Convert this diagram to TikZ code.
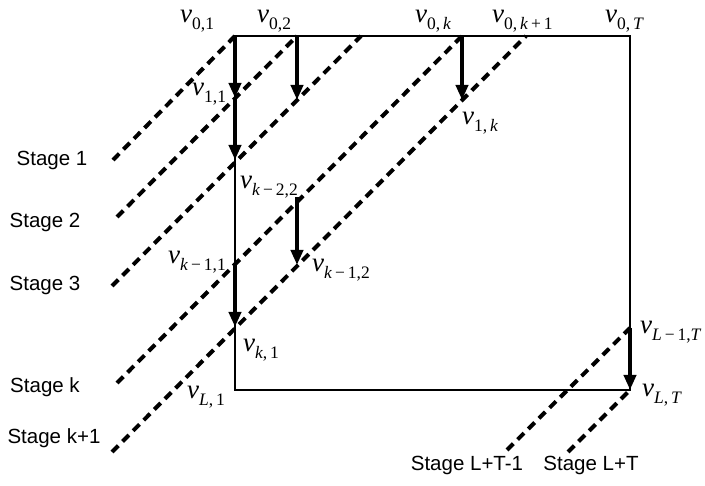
\documentclass[tikz,border=0pt]{standalone}
\usepackage{fontspec}
\setmainfont{Liberation Serif}
\newfontfamily\stagefont{Liberation Sans}
\usetikzlibrary{arrows.meta, positioning}

\newcommand{\vlab}[1]{\raisebox{0pt}[14pt][0pt]{\fontsize{27}{29}\selectfont\itshape v}\raisebox{-7pt}[6pt][0pt]{\fontsize{17.5}{18}\selectfont #1}}

\begin{document}
\begin{tikzpicture}[
    x=1pt, y=-1pt,
    grid/.style={line width=2pt},
    stage/.style={line width=4pt, dash pattern=on 9pt off 6pt},
    flow/.style={-{Triangle[length=15pt,width=12pt]}, line width=4pt},
    lab/.style={anchor=base west, inner sep=0pt},
    stagelab/.style={inner sep=0pt, font=\stagefont\fontsize{20.5}{23}\selectfont}
]
    \useasboundingbox (0,0) rectangle (705,486);

    % grid points
    \coordinate (v01) at (235,36);
    \coordinate (v02) at (297,36);
    \coordinate (v03) at (361,36);
    \coordinate (v0k) at (462,36);
    \coordinate (v0k1) at (526,36);
    \coordinate (v0T) at (630,36);
    \coordinate (v11) at (235,98);
    \coordinate (v12) at (297,100);
    \coordinate (v1k) at (462,100);
    \coordinate (v21) at (235,160);
    \coordinate (vk22) at (297,197);
    \coordinate (vk11) at (235,263);
    \coordinate (vk12) at (297,265);
    \coordinate (vk1) at (235,327);
    \coordinate (vL1) at (235,390);
    \coordinate (vL1T) at (630,328);
    \coordinate (vLT) at (630,390);

    % free ends of the stage lines
    \coordinate (s1) at (113,160);
    \coordinate (s2) at (117,217);
    \coordinate (s3) at (112,286);
    \coordinate (sk) at (117,383);
    \coordinate (sk1) at (112,452);
    \coordinate (sLT1) at (507,450);
    \coordinate (sLT) at (568,452);

    \draw[grid] (v01) -- (v0T) -- (vLT) -- (vL1) -- cycle;

    % stages
    \draw[stage] (s1) -- (v01);
    \draw[stage] (s2) -- (v02);
    \draw[stage] (s3) -- (v03);
    \draw[stage] (sk) -- (v0k);
    \draw[stage] (sk1) -- (v0k1);
    \draw[stage] (sLT1) -- (vL1T);
    \draw[stage] (sLT) -- (vLT);

    % moves
    \draw[flow] (v01) -- (v11);
    \draw[flow] (v11) -- (v21);
    \draw[flow] (v02) -- (v12);
    \draw[flow] (v0k) -- (v1k);
    \draw[flow] (vk22) -- (vk12);
    \draw[flow] (vk11) -- (vk1);
    \draw[flow] (vL1T) -- (vLT);

    % labels
    \node[lab] (l01) at (180,23) {\vlab{0,1}};
    \node[lab] (l02) at (257,23) {\vlab{0,2}};
    \node[lab] (l0k) at (415,23) {\vlab{0,\,\textit{k}}};
    \node[lab] (l0k1) at (492,23) {\vlab{0,\,\textit{k}\,+\,1}};
    \node[lab] (l0T) at (605,23) {\vlab{0,\,\textit{T}}};
    \node[lab] (l11) at (192,96) {\vlab{1,1}};
    \node[lab] (lk22) at (240,189) {\vlab{\textit{k}\,−\,2,2}};
    \node[lab] (l1k) at (462,125) {\vlab{1,\,\textit{k}}};
    \node[lab] (lk11) at (168,264) {\vlab{\textit{k}\,−\,1,1}};
    \node[lab] (lk12) at (312,272) {\vlab{\textit{k}\,−\,1,2}};
    \node[lab] (lk1) at (243,352) {\vlab{\textit{k},\,1}};
    \node[lab] (lL1) at (187,399) {\vlab{\textit{L},\,1}};
    \node[lab] (lL1T) at (640,334) {\vlab{\textit{L}\,−\,1,\textit{T}}};
    \node[lab] (lLT) at (642,397) {\vlab{\textit{L},\,\textit{T}}};

    \node[stagelab] (t1) at (52,160) {Stage 1};
    \node[stagelab] (t2) at (45,222) {Stage 2};
    \node[stagelab] (t3) at (45,285) {Stage 3};
    \node[stagelab] (tk) at (45,387) {Stage k};
    \node[stagelab] (tk1) at (54,438) {Stage k+1};
    \node[stagelab] (tLT1) at (467,465) {Stage L+T-1};
    \node[stagelab] (tLT) at (591,465) {Stage L+T};
\end{tikzpicture}
\end{document}
